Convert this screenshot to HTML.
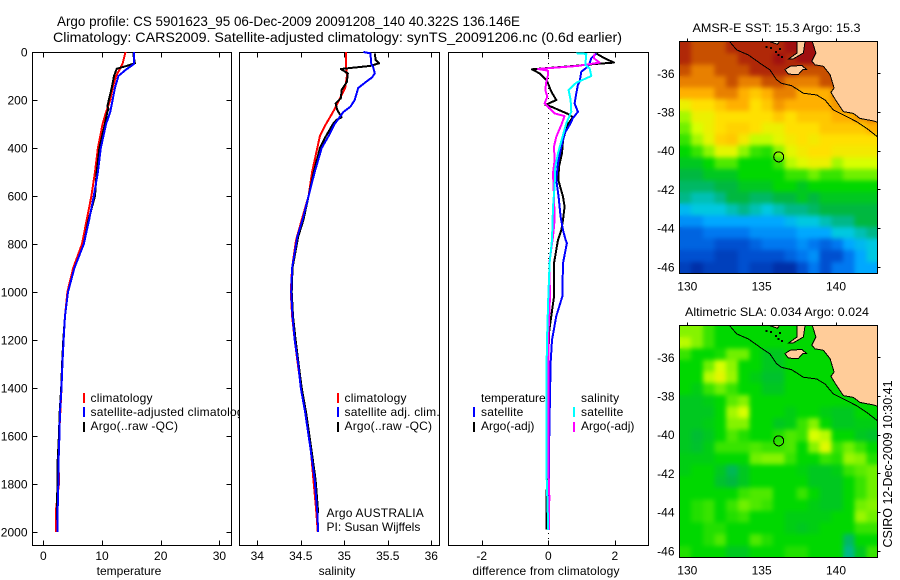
<!DOCTYPE html>
<html lang="en">
<head>
<meta charset="utf-8">
<title>Argo profile</title>
<style>
html,body{margin:0;padding:0;background:#fff;width:900px;height:580px;overflow:hidden}
svg{display:block}
text{font-family:"Liberation Sans",sans-serif;font-size:12px;fill:#000}
.title{font-size:14px}
.legend text{letter-spacing:.2px}
.legend text.tight{letter-spacing:0}
</style>
</head>
<body>
<svg id="figure" width="900" height="580" viewBox="0 0 900 580" xmlns="http://www.w3.org/2000/svg" shape-rendering="crispEdges">
<defs>
<clipPath id="clip-t"><rect x="32" y="52" width="208" height="494"/></clipPath>
<clipPath id="clip-map1"><rect x="679.5" y="41.5" width="198" height="232"/></clipPath>
<clipPath id="clip-map2"><rect x="679.5" y="325.5" width="198" height="232"/></clipPath>
<filter id="soften" x="-5%" y="-5%" width="110%" height="110%" color-interpolation-filters="sRGB">
<feGaussianBlur in="SourceGraphic" stdDeviation="2.5" result="soft"/>
<feMerge><feMergeNode in="SourceGraphic"/><feMergeNode in="soft"/></feMerge>
</filter>
</defs>
<rect x="0" y="0" width="900" height="580" fill="#fff"/>
<text class="title" x="57" y="26" textLength="463" lengthAdjust="spacingAndGlyphs">Argo profile: CS 5901623_95 06-Dec-2009 20091208_140 40.322S 136.146E</text>
<text class="title" x="53" y="42" textLength="569" lengthAdjust="spacingAndGlyphs">Climatology: CARS2009. Satellite-adjusted climatology: synTS_20091206.nc (0.6d earlier)</text>

<g id="panel-t"></g>
<g id="panel-s"></g>
<g id="panel-d"></g>

<g class="legend" clip-path="url(#clip-t)">
<rect x="83" y="393" width="2" height="10" fill="#f00"/>
<text x="90.5" y="402">climatology</text>
<rect x="83" y="407" width="2" height="10" fill="#00f"/>
<text x="90.5" y="416">satellite-adjusted climatology</text>
<rect x="83" y="422" width="2" height="10" fill="#000"/>
<text x="90.5" y="430">Argo(..raw -QC)</text>
</g>
<g class="legend">
<rect x="337" y="393" width="2" height="10" fill="#f00"/>
<text x="344.5" y="402">climatology</text>
<rect x="337" y="407" width="2" height="10" fill="#00f"/>
<text x="344.5" y="416">satellite adj. clim.</text>
<rect x="337" y="422" width="2" height="10" fill="#000"/>
<text x="344.5" y="430">Argo(..raw -QC)</text>
<text x="326.5" y="517">Argo AUSTRALIA</text>
<text class="tight" x="326.5" y="531">PI: Susan Wijffels</text>
</g>
<g class="legend">
<text class="tight" x="481" y="402">temperature</text>
<rect x="473" y="407" width="2" height="10" fill="#00f"/>
<text x="481" y="416">satellite</text>
<rect x="473" y="422" width="2" height="10" fill="#000"/>
<text class="tight" x="481" y="430">Argo(-adj)</text>
<text x="581" y="402">salinity</text>
<rect x="573" y="407" width="2" height="10" fill="#0ff"/>
<text x="581" y="416">satellite</text>
<rect x="573" y="422" width="2" height="10" fill="#f0f"/>
<text class="tight" x="581" y="430">Argo(-adj)</text>
</g>

<g id="map-sst"></g>
<g id="map-sla"></g>
<text x="692.5" y="32" textLength="168" lengthAdjust="spacingAndGlyphs">AMSR-E SST: 15.3 Argo: 15.3</text>
<text x="685" y="316" textLength="184" lengthAdjust="spacingAndGlyphs">Altimetric SLA: 0.034 Argo: 0.024</text>
<text style="font-size:13px" transform="translate(892,547.5) rotate(-90)" textLength="167" lengthAdjust="spacingAndGlyphs">CSIRO 12-Dec-2009 10:30:41</text>
</svg>

<script>
/* ---------- axis ticks ---------- */
const depthTicks = [0,200,400,600,800,1000,1200,1400,1600,1800,2000];
const tempTicks = [0,10,20,30];
const salTicks = [34,34.5,35,35.5,36];
const diffTicks = [-2,0,2];
const lonTicks = [130,135,140];
const latTicks = [-36,-38,-40,-42,-44,-46];

/* ---------- temperature profiles ---------- */
const tempClimDepth = [0,50,100,150,200,250,300,400,500,600,700,800,900,1000,1100,1200,1300,1400,1500,1600,1700,1800,1900,1901,2000];
const tempClimValues = [14.0,13.5,12.4,11.8,11.4,10.7,10.1,9.3,8.8,8.2,7.4,6.6,5.1,4.1,3.7,3.4,3.2,3.1,2.9,2.7,2.6,2.65,2.2,2.2,2.2];
const tempSatDepth = [0,50,75,100,150,200,250,300,400,500,600,700,800,900,1000,1100,1200,1300,1400,1500,1600,1700,1800,1900,2000];
const tempSatValues = [15.45,15.45,14.0,12.8,12.2,11.8,11.4,10.7,9.8,9.3,8.6,7.8,6.9,5.3,4.2,3.7,3.45,3.25,3.1,2.85,2.75,2.6,2.55,2.45,2.4];
const tempArgoDepth = [5,47,58,70,100,150,200,228,236,250,300,400,500,600,700,800,900,1000,1100,1200,1300,1400,1500,1600,1700,1800,1950];
const tempArgoValues = [15.3,15.6,14.2,12.5,12.05,11.65,11.15,10.9,11.1,10.9,10.5,9.55,9.1,8.8,7.7,6.9,5.3,4.2,3.7,3.4,3.2,3.05,2.8,2.65,2.45,2.4,2.3];

/* ---------- salinity profiles ---------- */
const salClimDepth = [0,50,100,150,200,250,300,350,400,500,600,700,785,900,1000,1100,1200,1300,1400,1500,1600,1700,1800,1900,2000];
const salClimValues = [35.02,35.02,35.03,35.01,34.94,34.87,34.79,34.72,34.69,34.63,34.59,34.51,34.445,34.40,34.385,34.40,34.43,34.465,34.505,34.56,34.60,34.625,34.65,34.675,34.695];
const salSatDepth = [0,6,50,61,89,106,124,150,200,228,250,300,350,400,500,600,700,769,900,1000,1100,1200,1300,1400,1500,1650,1783,1921,2000];
const salSatValues = [35.22,35.30,35.31,35.33,35.35,35.32,35.25,35.16,35.12,35.07,34.99,34.89,34.82,34.74,34.66,34.59,34.52,34.46,34.40,34.39,34.405,34.43,34.47,34.50,34.55,34.61,34.66,34.69,34.70];
const salArgoDepth = [6,33,47,58,71,89,124,158,193,214,242,272,283,300,350,400,500,600,700,769,900,1000,1100,1200,1300,1400,1500,1650,1783,1921];
const salArgoValues = [35.35,35.36,35.40,35.30,34.96,35.04,35.03,34.97,34.96,34.90,34.92,34.97,34.91,34.87,34.79,34.72,34.65,34.59,34.53,34.47,34.405,34.395,34.41,34.44,34.475,34.51,34.56,34.62,34.67,34.70];

/* ---------- differences from climatology ---------- */
const diffTempArgoDepth = [6,12,26,44,50,58,72,89,117,131,165,200,221,228,249,258,272,304,367,422,478,533,603,644,700,742,783,880,1019,1100,1158,1297,1714,1853,1990];
const diffTempArgoValues = [1.44,1.51,1.69,1.97,1.39,0.79,-0.49,-0.26,-0.06,-0.01,0.09,0.24,-0.09,0.09,0.44,0.59,0.74,0.57,0.44,0.41,0.32,0.30,0.44,0.49,0.44,0.39,0.29,0.17,0.17,0.09,0.03,-0.01,-0.03,-0.05,-0.05];
const diffTempSatDepth = [6,26,47,61,82,124,137,172,214,249,276,304,339,394,464,533,603,686,742,783,796,880,1019,1100,1200,1297,1436,1575,1992];
const diffTempSatValues = [1.44,1.29,1.24,1.19,0.99,0.94,0.89,0.84,0.79,0.89,0.74,0.64,0.49,0.39,0.29,0.24,0.31,0.37,0.44,0.52,0.56,0.44,0.42,0.24,0.11,0.07,0.05,0.03,0.01];
const diffSalArgoDepth = [6,26,44,58,71,78,96,124,158,186,214,228,256,267,304,353,394,450,506,603,700,769,880,1019,1158,1367,1714,1853,1992];
const diffSalArgoValues = [1.39,1.37,1.54,0.89,-0.31,-0.01,-0.01,-0.06,-0.09,-0.03,-0.11,-0.01,0.19,0.49,0.39,0.24,0.17,0.19,0.14,0.17,0.19,0.14,0.03,0.05,0.01,0.01,0.00,0.03,0.02];
const diffSalSatDepth = [5,8,54,68,100,128,158,200,249,297,346,422,478,561,644,783,880,1019,1158,1297,1527,1763,1950,1992];
const diffSalSatValues = [0.84,1.14,1.11,1.24,1.29,0.84,0.61,0.67,0.69,0.54,0.44,0.29,0.21,0.19,0.14,0.11,0.04,0.00,-0.03,-0.05,-0.05,-0.05,-0.01,-0.01];

/* ---------- AMSR-E SST map: colour level per cell (north to south) ---------- */
const sstRows = [
[14,13,13,13,14,14,14,14,14,15,15,15,15,15,15,15,15],
[14,13,13,13,13,14,14,14,15,14,15,15,15,15,15,15,15],
[13,12,12,13,13,13,14,14,14,14,13,13,13,14,14,14,14],
[12,12,12,12,13,12,12,13,13,12,12,12,13,13,14,14,14],
[11,11,11,12,12,11,10.5,11,12,12,11,11,11,12,13,13,13],
[9.5,10,10,10.5,11,11,10,10.5,11.5,11,11,11,11,11.5,12,12.5,13],
[8.5,9.5,9.5,10,10,10,10,10,10.5,10,10.5,10.5,10.5,11,11,11.5,12],
[8,9,9.5,10,10.3,10.3,10,9.5,9.5,10,10,10,10.5,10.5,10.5,10.5,11],
[7.5,8.5,9.3,10.3,10.5,9.7,8.8,8.8,9.3,9.7,10,9.7,10,10,10,10,10],
[7,7.5,8.3,9.3,9.3,8.3,7.5,7.3,8.3,9.3,9.7,10,10,9.7,9.7,9.7,9.7],
[6.5,6.5,7,7.7,7.7,7,7,7,7.5,8.7,9.2,9.5,9.5,8.5,9,9,9],
[6,6,6.5,6.5,6.5,7,7,7,7,7.5,7.5,8,7.5,7.5,8,8,8],
[5.5,5.5,5.5,6,6,6.5,6.5,6.5,7,7,6.5,7,7,7,7,7,7],
[5,4.5,4.5,5,6,6,5.5,5.5,6,6,6.5,6,6.5,6.5,6.5,6.5,6.5],
[3.5,4,4,4,4.5,5,4.5,4,4.5,5,5,5.5,6,6,6,6,6],
[2.5,2.5,3,3,3,3,3,3,3,3.5,4,4,4.5,5,5,6,6],
[1.5,1.5,2,2,2,2,2.5,2.5,2.5,2.5,3,3,3,4,4,4.5,5],
[1.5,1.5,1.5,1,1,1,1.5,2,2,2,2.5,2,1.5,2,3,3.5,4],
[1,1,1,0.5,0.5,1,1,1,1,1.5,2,2.5,1,1,2,3,4],
[0.5,0,0.5,0.5,0.5,1,0.5,0.5,0,0,1,2,1,2,2,3,3]
];

/* ---------- altimetric SLA map: colour level per cell (north to south) ---------- */
const slaRows = [
[8.2,8.2,7.5,7,7,7,7,7,7,7,7,7,7,7,7,7,7],
[8.7,8.2,7.5,7,7,7,7,7,7,7,7,7,7,7,7,7,7],
[7.5,7,7,7.2,8,8,7,6.5,6.5,7,7,7,7,7,7,7,7],
[7,7,8,9,8.3,7,7,6.5,6.5,7,7,7,7,7,7,7,7],
[7,7,8.7,9.3,8.4,7,6.7,6.3,6.3,7,7,7,7,7,7,7,7],
[7,6.7,7.5,8,7.5,7,7,6.5,6.5,7,7,7,7,7,7,7,7],
[6.5,6.5,6.7,7,7.8,8.2,7,7,7,7,7,7,7,7,7,7,7],
[6.5,6.5,6.5,7,8.5,9,7,7,7,6.7,7,7,6.7,6.5,6.5,7,7],
[6.5,6.5,6.7,7,8.2,8.2,7,7,6.5,6.7,7.5,8.2,7,6.5,6.5,6.7,6.7],
[6.5,6.2,6.5,7,7.7,7.3,7,7,7.3,7.7,7.5,9,8.7,7,7,6.5,6.3],
[6.5,6.3,6.7,7.5,7.5,7.5,7.7,7.5,7.5,7.7,7,8.2,9.2,7.5,8,7.5,7],
[6.7,6.7,6.7,7,7,7,8,8.2,8.2,7.5,7,7,7.5,7.3,8.4,8.2,7.3],
[6.7,7,7,6.5,5.7,6.5,7,7,7,7,6.8,6.5,6.5,6.7,7.5,7.8,8],
[7,7,7,6.3,6,6.5,7,7,7,7,7,6.5,6.5,6.5,7,7.5,8],
[7,7,7,7,7,7.5,7.7,7.7,7,7,7.5,7,6.5,6.5,7,7.5,8],
[7,7.3,7.5,7,7.5,8,7.7,7.5,7,7,7,6.7,6.5,6.5,7,8,8.2],
[7,7.3,7.5,7,7.3,7.5,7,7,7,6.7,6.7,6.7,6.7,7,7,8.4,8],
[7,7,7.3,7.3,7,7,7,7,7,6.7,6.5,6.7,7,7,7,7.5,7.5],
[7,7,7.3,7.7,7,7,7.7,7.3,7,7,7,7,7,7,5.5,7,7],
[7.3,7,7,7,6.5,6.5,7,7,7,7.3,7.3,7,7,7,5,6.5,7.5]
];

/* ---------- geography (lon, lat) ---------- */
const shelfLon = [132.83,133.32,134.10,134.89,135.56,136.01,136.35,137.02,137.80,138.70,139.26,139.82,140.49,141.39,142.06,142.78];
const shelfLat = [-34.35,-34.79,-35.05,-35.48,-35.83,-36.34,-36.52,-36.64,-37.03,-37.12,-37.38,-37.89,-38.15,-38.50,-38.84,-39.27];
const mainlandLon = [138.40,138.65,138.37,138.59,139.15,139.60,139.87,139.66,140.04,140.49,141.17,141.61,142.51,142.80,142.80];
const mainlandLat = [-34.34,-34.95,-35.38,-35.56,-35.64,-36.07,-36.76,-36.98,-37.46,-37.98,-38.07,-38.33,-38.46,-38.53,-34.34];
const kangarooLon = [136.57,136.91,137.69,138.03,137.76,137.46,136.79];
const kangarooLat = [-35.81,-35.64,-35.59,-35.81,-35.81,-36.07,-36.04];
const yorkeLon = [137.38,137.92,137.81,137.11,136.81,137.38];
const yorkeLat = [-34.34,-34.34,-34.95,-35.26,-35.26,-34.95];
const eyreLon = [135.45,136.23,136.05,135.78];
const eyreLat = [-34.34,-34.34,-34.50,-34.42];
const isletLon = [135.25,135.55,135.9,136.15,136.3,136.05];
const isletLat = [-34.6,-34.65,-34.85,-34.7,-35.1,-35.0];
const floatLon = 136.146;
const floatLat = -40.322;

/* ---------- colour scale stops (level index to colour) ---------- */
const levelColors = ['#0030a8','#0050d0','#0078f0','#00a8ff','#00c8e0','#00b888','#00b840','#00d800','#70f000','#d8ff00','#ffe000','#ffb000','#e88000','#c85000','#b02808','#a01010'];

const NS = 'http://www.w3.org/2000/svg';

/* axis functions */
const depthY = d => 52 + d * 0.24;
const tempX = v => 43.3 + v * 5.87;
const salX = v => 257.3 + (v - 34) * 87;
const diffX = v => 548.3 + v * 33.3;
const lonX = v => 687.3 + (v - 130) * 14.87;
const latYTop = v => 73.3 + (-36 - v) * 19.35;
const latYBottom = v => 357.3 + (-36 - v) * 19.35;

function make(tag, parent, attrs) {
  const el = document.createElementNS(NS, tag);
  for (const k in attrs) el.setAttribute(k, attrs[k]);
  parent.appendChild(el);
  return el;
}

function levelColor(v) {
  const clamped = Math.max(0, Math.min(levelColors.length - 1, v));
  const i = Math.min(levelColors.length - 2, Math.floor(clamped));
  const t = clamped - i;
  const a = levelColors[i], b = levelColors[i + 1];
  const ch = p => {
    const x = parseInt(a.substr(p, 2), 16), y = parseInt(b.substr(p, 2), 16);
    return Math.round(x + (y - x) * t);
  };
  return 'rgb(' + ch(1) + ',' + ch(3) + ',' + ch(5) + ')';
}

function drawProfile(parent, xFn, depths, values, color, name, width) {
  const pts = depths.map((d, i) => xFn(values[i]).toFixed(1) + ',' + depthY(d).toFixed(1)).join(' ');
  const line = make('polyline', parent, {points: pts, fill: 'none', stroke: color, 'stroke-width': width, 'stroke-linejoin': 'round'});
  
  
}

function drawPanel(parent, left, right, xFn, ticks, label, labelX, withY, labelSpacing) {
  const top = 52.5, bottom = 545.5;
  const box = make('rect', parent, {x: left, y: top, width: right - left, height: bottom - top, fill: '#fff', stroke: '#000', 'stroke-width': 1});
  
  
  ticks.forEach(t => {
    const x = Math.round(xFn(t)) + 0.5;
    const up = make('path', parent, {d: 'M' + x + ' ' + top + 'v5M' + x + ' ' + bottom + 'v-5', stroke: '#000', 'stroke-width': 1, fill: 'none'});
    
    
    const txt = make('text', parent, {x: xFn(t), y: 560, 'text-anchor': 'middle'});
    
    
    txt.textContent = String(t);
  });
  if (withY) {
    depthTicks.forEach(d => {
      const y = Math.round(depthY(d)) + 0.5;
      const tk = make('path', parent, {d: 'M' + left + ' ' + y + 'h5M' + right + ' ' + y + 'h-5', stroke: '#000', 'stroke-width': 1, fill: 'none'});
      
      
      const txt = make('text', parent, {x: 27.5, y: depthY(d) + 4.5, 'text-anchor': 'end'});
      
      
      txt.textContent = String(d);
    });
  }
  const lab = make('text', parent, {x: labelX, y: 575, 'text-anchor': 'middle', style: 'letter-spacing:' + labelSpacing + 'px'});
  
  
  lab.textContent = label;
}

function polyPoints(lons, lats, latFn) {
  return lons.map((v, i) => lonX(v).toFixed(1) + ',' + latFn(lats[i]).toFixed(1)).join(' ');
}

function drawMap(parent, rows, latFn, boxTop, clipId, labelBaseline) {
  const left = 679.5, width = 198, height = 232;
  const clipper = make('g', parent, {'clip-path': 'url(#' + clipId + ')'});
  
  
  const cells = make('g', clipper, {filter: 'url(#soften)'});
  
  
  const colCount = rows[0].length;
  const dLon = (142.82 - 129.48) / colCount;
  const dLat = 0.6;
  const topLat = -34.34;
  rows.forEach((row, r) => {
    row.forEach((v, c) => {
      const x0 = lonX(129.48 + c * dLon), x1 = lonX(129.48 + (c + 1) * dLon);
      const y0 = latFn(topLat - r * dLat), y1 = latFn(topLat - (r + 1) * dLat);
      const cell = make('rect', cells, {x: x0.toFixed(2), y: y0.toFixed(2), width: (x1 - x0 + 0.5).toFixed(2), height: (y1 - y0 + 0.5).toFixed(2), fill: levelColor(v)});
      
      
    });
  });
  const geo = make('g', parent, {'clip-path': 'url(#' + clipId + ')'});
  
  
  const landStyle = {fill: '#ffcc99', stroke: '#000', 'stroke-width': 1};
  const land1 = make('polygon', geo, Object.assign({points: polyPoints(mainlandLon, mainlandLat, latFn)}, landStyle));
  
  
  const land2 = make('polygon', geo, Object.assign({points: polyPoints(kangarooLon, kangarooLat, latFn)}, landStyle));
  
  
  const land3 = make('polygon', geo, Object.assign({points: polyPoints(yorkeLon, yorkeLat, latFn)}, landStyle));
  
  
  const land4 = make('polygon', geo, Object.assign({points: polyPoints(eyreLon, eyreLat, latFn)}, landStyle));
  
  
  isletLon.forEach((v, i) => {
    const islet = make('rect', geo, {x: lonX(v).toFixed(1), y: latFn(isletLat[i]).toFixed(1), width: 2, height: 2, fill: '#000'});
    
    
  });
  const shelf = make('polyline', geo, {points: polyPoints(shelfLon, shelfLat, latFn), fill: 'none', stroke: '#000', 'stroke-width': 1});
  
  
  const marker = make('circle', parent, {cx: lonX(floatLon).toFixed(1), cy: latFn(floatLat).toFixed(1), r: 5, fill: 'none', stroke: '#000', 'stroke-width': 1});
  
  
  const frame = make('rect', parent, {x: left, y: boxTop, width: width, height: height, fill: 'none', stroke: '#000', 'stroke-width': 1});
  
  
  lonTicks.forEach(t => {
    const x = Math.round(lonX(t)) + 0.5;
    const tk = make('path', parent, {d: 'M' + x + ' ' + boxTop + 'v-3', stroke: '#000', 'stroke-width': 1});
    
    
    const txt = make('text', parent, {x: lonX(t), y: labelBaseline, 'text-anchor': 'middle'});
    
    
    txt.textContent = String(t);
  });
  latTicks.forEach(t => {
    const y = Math.round(latFn(t)) + 0.5;
    const tk = make('path', parent, {d: 'M' + (left + width) + ' ' + y + 'h3', stroke: '#000', 'stroke-width': 1});
    
    
    const txt = make('text', parent, {x: 674.5, y: latFn(t) + 4.5, 'text-anchor': 'end'});
    
    
    txt.textContent = String(t);
  });
}

/* temperature panel */
const pT = document.getElementById('panel-t');
drawPanel(pT, 32.5, 231.5, tempX, tempTicks, 'temperature', 129, true, 0);
drawProfile(pT, tempX, tempClimDepth, tempClimValues, '#f00', 'temperature-climatology-line', 2);
drawProfile(pT, tempX, tempArgoDepth, tempArgoValues, '#000', 'temperature-argo-line', 2);
drawProfile(pT, tempX, tempSatDepth, tempSatValues, '#00f', 'temperature-satellite-line', 2);

/* salinity panel */
const pS = document.getElementById('panel-s');
drawPanel(pS, 239.5, 439.5, salX, salTicks, 'salinity', 337, false, 0);
drawProfile(pS, salX, salClimDepth, salClimValues, '#f00', 'salinity-climatology-line', 2);
drawProfile(pS, salX, salArgoDepth, salArgoValues, '#000', 'salinity-argo-line', 2);
drawProfile(pS, salX, salSatDepth, salSatValues, '#00f', 'salinity-satellite-line', 2);

/* difference panel */
const pD = document.getElementById('panel-d');
drawPanel(pD, 448.5, 648.5, diffX, diffTicks, 'difference from climatology', 546, false, 0.15);
const zero = make('line', pD, {x1: diffX(0), x2: diffX(0), y1: 53, y2: 545, stroke: '#000', 'stroke-width': 1, 'stroke-dasharray': '1 4'});


drawProfile(pD, diffX, diffTempArgoDepth, diffTempArgoValues, '#000', 'difference-temperature-argo-line', 2);
drawProfile(pD, diffX, diffTempSatDepth, diffTempSatValues, '#00f', 'difference-temperature-satellite-line', 2);
drawProfile(pD, diffX, diffSalArgoDepth, diffSalArgoValues, '#f0f', 'difference-salinity-argo-line', 2);
drawProfile(pD, diffX, diffSalSatDepth, diffSalSatValues, '#0ff', 'difference-salinity-satellite-line', 2);

/* maps */
drawMap(document.getElementById('map-sst'), sstRows, latYTop, 41.5, 'clip-map1', 290.5);
drawMap(document.getElementById('map-sla'), slaRows, latYBottom, 325.5, 'clip-map2', 574.5);
</script>
</body>
</html>
